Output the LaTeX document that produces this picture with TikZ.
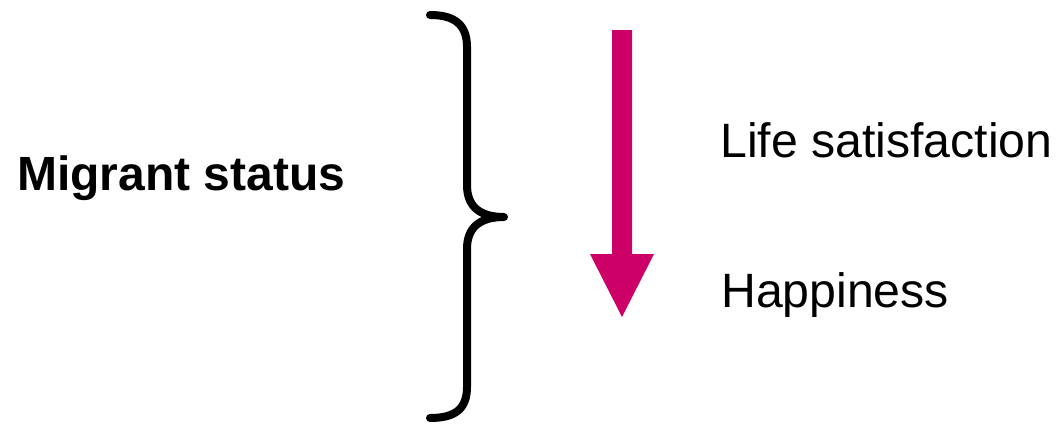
\documentclass[tikz,border=0pt]{standalone}
\usepackage{fontspec}
\setmainfont{Liberation Sans}
\definecolor{magentaarrow}{RGB}{204,0,102}
\begin{document}
\begin{tikzpicture}[x=1pt,y=-1pt,
  label/.style={anchor=base west,inner sep=0pt,font=\fontsize{48.2}{56}\selectfont},
  brace/.style={line width=8pt,line cap=round,line join=round},
  bigarrow/.style={fill=magentaarrow,draw=none}]
\useasboundingbox (0,0) rectangle (1057,426);

% left label
\node[label,font=\fontsize{48}{56}\selectfont\bfseries] (status) at (17,190) {Migrant status};

% curly brace
\draw[brace] (430,15) .. controls (455,15) and (467,25) .. (467,47)
  -- (467,185) .. controls (467,205) and (478,217) .. (504,217)
  .. controls (478,217) and (467,229) .. (467,249)
  -- (467,387) .. controls (467,409) and (455,418) .. (430,418);

% downward block arrow
\path[bigarrow] (612,30) -- (632,30) -- (632,254) -- (654,254)
  -- (622,317) -- (590,254) -- (612,254) -- cycle;

% right labels
\node[label] (life) at (720,157) {Life satisfaction};
\node[label] (happy) at (721,307) {Happiness};
\end{tikzpicture}
\end{document}
